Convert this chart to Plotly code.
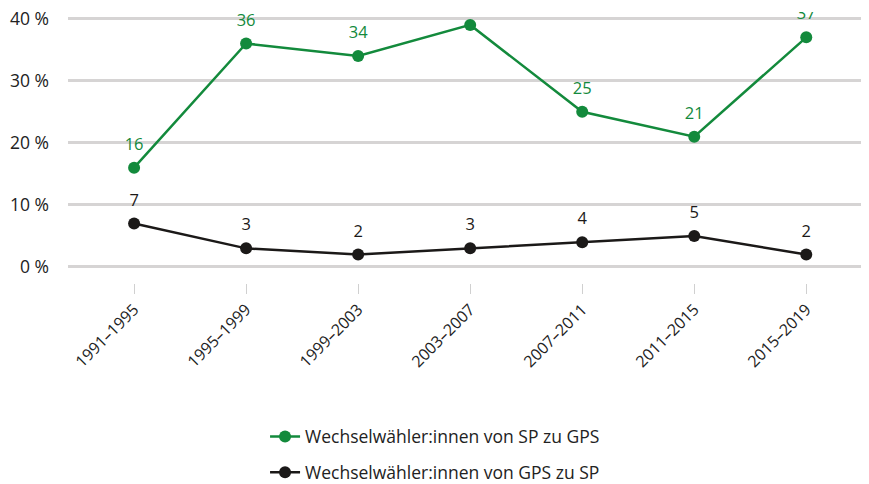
import plotly.graph_objects as go

categories = ["1991–1995", "1995–1999", "1999–2003", "2003–2007", "2007–2011", "2011–2015", "2015–2019"]
sp_to_gps = [16, 36, 34, 39, 25, 21, 37]
gps_to_sp = [7, 3, 2, 3, 4, 5, 2]
series_names = ["Wechselwähler:innen von SP zu GPS", "Wechselwähler:innen von GPS zu SP"]
y_tickvals = [0, 10, 20, 30, 40]
y_ticktext = ["0 %", "10 %", "20 %", "30 %", "40 %"]

GREEN = "#138a3c"
DARK = "#1b1918"
FONT = "Open Sans"

fig = go.Figure()
for name, vals, col, grp in [(series_names[0], sp_to_gps, GREEN, "a"),
                             (series_names[1], gps_to_sp, DARK, "b")]:
    fig.add_trace(go.Scatter(
        x=categories, y=vals, name=name, legendgroup=grp,
        mode="lines+markers",
        line=dict(color=col, width=2.5),
        marker=dict(color=col, size=12),
        cliponaxis=True,
        hoverinfo="skip",
    ))
    # value labels (transparent marker only sets the label offset)
    fig.add_trace(go.Scatter(
        x=categories, y=vals, legendgroup=grp, showlegend=False,
        mode="markers+text",
        text=[str(v) for v in vals], textposition="top center",
        textfont=dict(color=col, size=16.5, family=FONT),
        marker=dict(color="rgba(0,0,0,0)", size=20.5),
        cliponaxis=True,
        hoverinfo="skip",
    ))

fig.update_layout(
    width=861, height=476,
    margin=dict(l=60, r=0, t=3.5, b=201, autoexpand=False),
    paper_bgcolor="white", plot_bgcolor="white",
    font=dict(family=FONT, size=17, color="#222222"),
    showlegend=True,
    legend=dict(
        orientation="v", x=0.496, xanchor="center", xref="container",
        y=0.1375, yanchor="top", yref="container",
        font=dict(size=17.5, family=FONT, color="#222222"),
        tracegroupgap=10, bgcolor="rgba(0,0,0,0)",
    ),
    xaxis=dict(
        type="category", range=[-0.59, 6.56],
        showgrid=False, zeroline=False, showline=False,
        ticks="outside", ticklen=10, tickwidth=1, tickcolor="#d0d0d0",
        tickangle=-45, tickfont=dict(size=16, family=FONT, color="#222222"),
        ticklabeloverflow="allow",
        automargin=False, fixedrange=True,
    ),
    yaxis=dict(
        range=[-2.58, 41.08],
        tickvals=y_tickvals, ticktext=y_ticktext,
        showgrid=True, gridcolor="#d6d4d4", gridwidth=2.5,
        zeroline=False, showline=False,
        ticks="", ticklabelstandoff=18,
        tickfont=dict(size=17.5, family=FONT, color="#222222"),
        ticklabeloverflow="allow",
        automargin=False, fixedrange=True,
    ),
)

fig.write_html("out.html")
